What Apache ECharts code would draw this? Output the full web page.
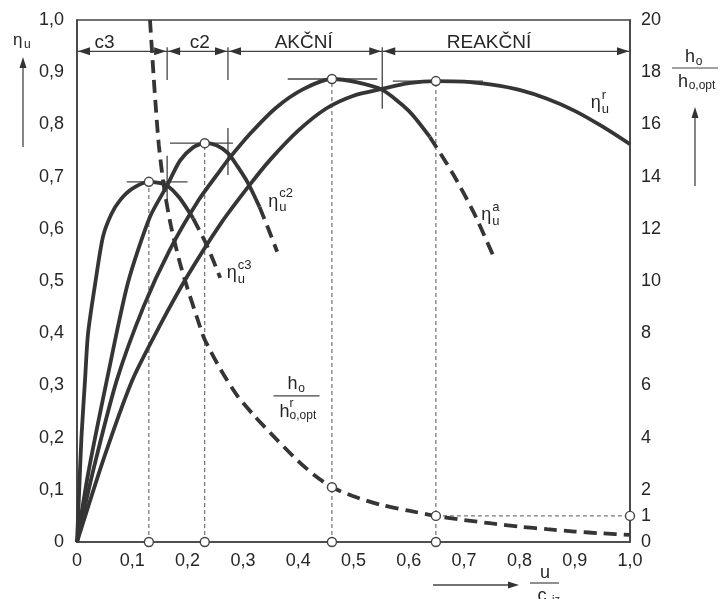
<!DOCTYPE html>
<html><head><meta charset="utf-8">
<script src="https://cdn.jsdelivr.net/npm/echarts@6/dist/echarts.min.js"></script>
<style>html,body{margin:0;padding:0;background:#fff}#c{width:726px;height:599px}</style>
</head><body><div id="c"></div>
<script>
// ---------- data ----------
const xTicks = [0,0.1,0.2,0.3,0.4,0.5,0.6,0.7,0.8,0.9,1.0];
const leftTicks = [0,0.1,0.2,0.3,0.4,0.5,0.6,0.7,0.8,0.9,1.0];
const rightTicks = [0,1,2,4,6,8,10,12,14,16,18,20];

// eta_u^c3
const c3U   = [0,0.004,0.008,0.0145,0.02,0.033,0.047,0.062,0.078,0.1,0.13,0.148,0.163,0.185,0.21,0.235,0.259];
const c3Eta = [0,0.1,0.2,0.31,0.40,0.496,0.585,0.628,0.655,0.677,0.69,0.688,0.683,0.66,0.62,0.568,0.506];
// eta_u^c2
const c2U   = [0,0.02,0.054,0.092,0.132,0.163,0.186,0.21,0.231,0.252,0.273,0.29,0.309,0.33,0.346,0.362];
const c2Eta = [0,0.13,0.31,0.496,0.623,0.683,0.73,0.756,0.764,0.76,0.745,0.72,0.688,0.642,0.6,0.556];
// eta_u^a
const aU   = [0,0.03,0.072,0.12,0.168,0.22,0.259,0.273,0.313,0.36,0.41,0.461,0.505,0.552,0.6,0.638,0.68,0.718,0.752];
const aEta = [0,0.14,0.31,0.45,0.56,0.655,0.712,0.732,0.782,0.832,0.868,0.887,0.881,0.866,0.826,0.776,0.705,0.63,0.55];
// eta_u^r
const rU   = [0,0.05,0.1,0.15,0.2,0.26,0.313,0.35,0.4,0.45,0.5,0.552,0.6,0.649,0.7,0.75,0.8,0.85,0.9,0.95,1.0];
const rEta = [0,0.165,0.31,0.415,0.51,0.61,0.685,0.733,0.788,0.83,0.855,0.868,0.879,0.883,0.882,0.876,0.866,0.849,0.826,0.796,0.762];
// h_o / h_o,opt (right axis)
const hU   = [0.132,0.14,0.148,0.158,0.17,0.186,0.2,0.217,0.23,0.26,0.29,0.32,0.36,0.40,0.43,0.461,0.5,0.55,0.6,0.649,0.7,0.75,0.8,0.85,0.9,0.95,1.0];
const hVal = [20,17.4,15.2,13.5,12.1,10.7,9.7,8.6,7.8,6.6,5.6,4.85,3.95,3.1,2.55,2.1,1.75,1.42,1.2,1.0,0.84,0.71,0.59,0.49,0.4,0.33,0.27];

// index where each curve turns dashed
const c3DashFrom = 14, c2DashFrom = 13, aDashFrom = 15;

// optimum points
const peakU   = [0.13, 0.231, 0.461, 0.649];
const peakEta = [0.69, 0.764, 0.887, 0.883];
const peakH   = [null, null, 2.1, 1.0];
// tangent spans at optima
const tanFrom = [0.09, 0.168, 0.381, 0.571];
const tanTo   = [0.20, 0.282, 0.543, 0.734];
// zone boundaries and names
const bounds = [0, 0.163, 0.273, 0.552, 1.0];
const zoneNames = ['c3','c2','AKČNÍ','REAKČNÍ'];
const zoneLabelU = [0.05, 0.222, 0.41, 0.745];
const zoneY = 0.94;
const boundMarkTop = [0.948, 0.948, 0.948];
const boundMarkBot = [0.885, 0.885, 0.83];
const crossTop = [0.74, 0.793];
const crossBot = [0.64, 0.703];
const hRef = 1;

// ---------- chart ----------
const FONT = '"Liberation Sans", Arial, sans-serif';
const INK = '#353535', TXT = '#262626';
const chart = echarts.init(document.getElementById('c'));
const zip = (a, b, from = 0, to = a.length - 1) => { const o = []; for (let i = from; i <= to; i++) o.push([a[i], b[i]]); return o; };
const fmt = v => v === 0 ? '0' : v.toFixed(1).replace('.', ',');

function curve(data, dashed, yi) {
  return { type: 'line', data, yAxisIndex: yi || 0, symbol: 'none', smooth: 0.25, silent: true, z: 3,
    lineStyle: { color: INK, width: 3.8, type: dashed ? [13, 7] : 'solid', cap: 'butt' } };
}
function seg(data, opt) {
  opt = opt || {};
  return { type: 'line', data, yAxisIndex: opt.yi || 0, symbol: 'none', silent: true, z: 2,
    lineStyle: { color: opt.color || '#555', width: opt.w || 1, type: opt.type || 'solid' } };
}
const series = [];
series.push(curve(zip(c3U, c3Eta, 0, c3DashFrom), false));
series.push(curve(zip(c3U, c3Eta, c3DashFrom), true));
series.push(curve(zip(c2U, c2Eta, 0, c2DashFrom), false));
series.push(curve(zip(c2U, c2Eta, c2DashFrom), true));
series.push(curve(zip(aU, aEta, 0, aDashFrom), false));
series.push(curve(zip(aU, aEta, aDashFrom), true));
series.push(curve(zip(rU, rEta), false));
series.push(curve(zip(hU, hVal), true, 1));
// vertical dashed drop lines
peakU.forEach((u, i) => series.push(seg([[u, 0], [u, peakEta[i]]], { type: [4, 3], color: '#555' })));
series.push(seg([[peakU[3], hRef], [1.0, hRef]], { type: [4, 3], color: '#555', yi: 1 }));
// tangents
peakU.forEach((u, i) => series.push(seg([[tanFrom[i], peakEta[i]], [tanTo[i], peakEta[i]]], { w: 1.3, color: '#444' })));
// boundary marks
[1, 2, 3].forEach((k, j) => series.push(seg([[bounds[k], boundMarkBot[j]], [bounds[k], boundMarkTop[j]]], { w: 1.3, color: '#444' })));
[1, 2].forEach((k, j) => series.push(seg([[bounds[k], crossBot[j]], [bounds[k], crossTop[j]]], { w: 1.3, color: '#444' })));
// zone dimension line
series.push(seg([[bounds[0], zoneY], [bounds[4], zoneY]], { w: 1.3, color: '#444' }));
// circles
const circ = { type: 'scatter', symbol: 'circle', symbolSize: 9, silent: true, z: 6,
  itemStyle: { color: '#ffffff', opacity: 1, borderColor: '#444', borderWidth: 1.4 } };
series.push(Object.assign({}, circ, { data: peakU.map((u, i) => [u, peakEta[i]]) }));
series.push(Object.assign({}, circ, { data: peakU.map(u => [u, 0]) }));
series.push(Object.assign({}, circ, { yAxisIndex: 1, data: peakU.map((u, i) => [u, peakH[i]]).filter(p => p[1] !== null).concat([[1.0, hRef]]) }));

const axisLbl = { color: TXT, fontSize: 18, fontFamily: FONT };
chart.setOption({
  animation: false,
  grid: { left: 77, right: 96, top: 20, bottom: 57, show: true, borderColor: '#444', borderWidth: 1.6 },
  xAxis: { type: 'value', min: 0, max: 1, interval: 0.1,
    axisLine: { show: true, lineStyle: { color: '#444', width: 1.6 } }, axisTick: { show: false }, splitLine: { show: false },
    axisLabel: Object.assign({ margin: 10, formatter: fmt, customValues: xTicks }, axisLbl) },
  yAxis: [
    { type: 'value', min: 0, max: 1, interval: 0.1, position: 'left',
      axisLine: { show: true, lineStyle: { color: '#444', width: 1.6 } }, axisTick: { show: false }, splitLine: { show: false },
      axisLabel: Object.assign({ margin: 13, formatter: fmt, customValues: leftTicks }, axisLbl) },
    { type: 'value', min: 0, max: 20, interval: 2, position: 'right',
      axisLine: { show: true, lineStyle: { color: '#444', width: 1.6 } }, axisTick: { show: false }, splitLine: { show: false },
      axisLabel: Object.assign({ margin: 11, formatter: v => String(v), customValues: rightTicks }, axisLbl) }
  ],
  series
});

// ---------- annotations ----------
const P = (u, v, yi) => chart.convertToPixel({ xAxisIndex: 0, yAxisIndex: yi || 0 }, [u, v]);
function T(x, y, s, size, align, extra) {
  return Object.assign({ type: 'text', x, y, silent: true, z: 10,
    style: { text: s, fontSize: size, fontFamily: FONT, fill: TXT, align: align || 'center', textAlign: align || 'center',
      verticalAlign: 'middle', textVerticalAlign: 'middle' } }, extra || {});
}
function L(x1, y1, x2, y2, w) { return { type: 'line', silent: true, z: 10, shape: { x1, y1, x2, y2 }, style: { stroke: '#444', lineWidth: w || 1.3 } }; }
function head(x, y, dir, len, wid) { // tip at (x,y)
  len = len || 12; wid = wid || 4;
  let pts;
  if (dir === 'l') pts = [[x, y], [x + len, y - wid], [x + len, y + wid]];
  if (dir === 'r') pts = [[x, y], [x - len, y - wid], [x - len, y + wid]];
  if (dir === 'u') pts = [[x, y], [x - wid, y + len], [x + wid, y + len]];
  return { type: 'polygon', silent: true, z: 11, shape: { points: pts }, style: { fill: '#333' } };
}
function eta(u, v, sup) {
  const p = P(u, v);
  return [T(p[0], p[1], 'η', 18, 'left'), T(p[0] + 11, p[1] + 6, 'u', 13, 'left'), T(p[0] + 11, p[1] - 8, sup, 13, 'left')];
}
const g = [];
// zone arrows & labels
for (let k = 0; k < 4; k++) {
  const a = P(bounds[k], zoneY), b = P(bounds[k + 1], zoneY);
  g.push(head(a[0] + 1, a[1], 'l'));
  g.push(head(b[0] - 1, b[1], 'r'));
  const t = P(zoneLabelU[k], zoneY);
  g.push(T(t[0], t[1] - 9, zoneNames[k], 19));
}
// curve labels
g.push(...eta(0.929, 0.840, 'r'));
g.push(...eta(0.731, 0.626, 'a'));
g.push(...eta(0.346, 0.652, 'c2'));
g.push(...eta(0.271, 0.515, 'c3'));
// in-plot fraction h_o / h^r_o,opt
{
  const c = P(0.397, 0.28);
  g.push(L(c[0] - 23, c[1], c[0] + 23, c[1], 1.2));
  g.push(T(c[0] - 4, c[1] - 12, 'h', 18)); g.push(T(c[0] + 5, c[1] - 7, 'o', 12));
  g.push(T(c[0] - 17, c[1] + 16, 'h', 18, 'left'));
  g.push(T(c[0] - 7, c[1] + 20, 'o,opt', 12, 'left'));
  g.push(T(c[0] - 7, c[1] + 8, 'r', 12, 'left'));
}
// left title
g.push(T(13, 40, 'η', 17, 'left')); g.push(T(24, 45, 'u', 12, 'left'));
g.push(L(23, 147, 23, 66, 1.3)); g.push(head(23, 57, 'u', 11, 3.5));
// right title
g.push(T(690, 57, 'h', 18)); g.push(T(699, 62, 'o', 12));
g.push(L(672, 68, 718, 68, 1.2));
g.push(T(683, 82, 'h', 18)); g.push(T(702, 86, 'o,opt', 12));
g.push(L(695, 186, 695, 116, 1.3)); g.push(head(695, 107, 'u', 11, 3.5));
// bottom title
g.push(L(433, 585, 508, 585, 1.3)); g.push(head(519, 585, 'r', 11, 3.5));
g.push(T(545, 573, 'u', 18)); g.push(L(530, 583, 559, 583, 1.2));
g.push(T(542, 596, 'c', 18)); g.push(T(552, 600, 'iz', 11, 'left'));
chart.setOption({ graphic: { elements: g } });
</script></body></html>
